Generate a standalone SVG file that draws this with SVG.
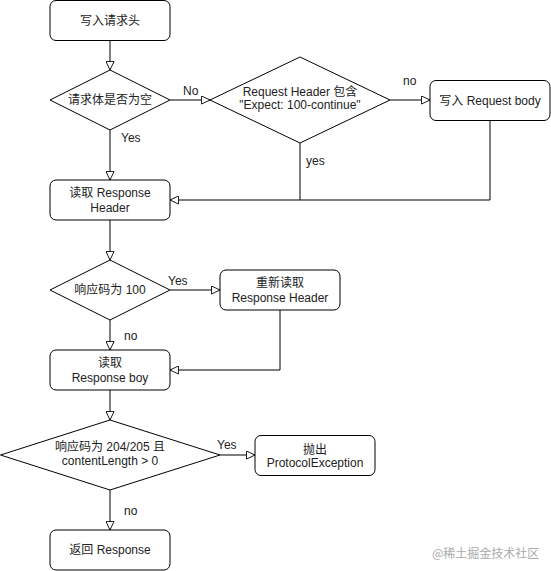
<svg xmlns="http://www.w3.org/2000/svg" width="551" height="571" viewBox="0 0 551 571">
<defs>
<style>
.n{fill:#fff;stroke:#000;stroke-width:1}
.t{font-family:"Liberation Sans","Noto Sans CJK SC",Arial,sans-serif;font-size:12px;fill:#222;text-anchor:middle;dominant-baseline:central}
.l{font-family:"Liberation Sans","Noto Sans CJK SC",Arial,sans-serif;font-size:12px;fill:#222;dominant-baseline:central}
.c{fill:none;stroke:#000;stroke-width:1}
.a{marker-end:url(#arr)}
</style>
<marker id="arr" viewBox="0 0 10 10" refX="10" refY="5" markerWidth="9" markerHeight="9" markerUnits="userSpaceOnUse" orient="auto">
<path d="M0.5,0.5 L10,5 L0.5,9.5 Z" fill="#fff" stroke="#000" stroke-width="1"/>
</marker>
</defs>
<rect width="551" height="571" fill="#fff"/>
<g id="connectors">
<path class="c a" d="M110,40 V70"/>
<path class="c a" d="M170,100 H210"/>
<path class="c a" d="M110,130 V180"/>
<path class="c a" d="M390,100 H430"/>
<path class="c" d="M300,143 V200"/>
<path class="c a" d="M490,120 V200 H170"/>
<path class="c a" d="M110,220 V260"/>
<path class="c a" d="M170,290 H220"/>
<path class="c a" d="M280,310 V370 H170"/>
<path class="c a" d="M110,320 V350"/>
<path class="c a" d="M110,390 V420"/>
<path class="c a" d="M220,455 H255"/>
<path class="c a" d="M110,490 V530"/>
<text class="l" x="183" y="91">No</text>
<text class="l" x="121" y="138">Yes</text>
<text class="l" x="403" y="81">no</text>
<text class="l" x="306" y="161">yes</text>
<text class="l" x="168" y="281">Yes</text>
<text class="l" x="124" y="336">no</text>
<text class="l" x="217" y="445">Yes</text>
<text class="l" x="124" y="511">no</text>
</g>
<g id="n1"><rect class="n" x="50" y="0.5" width="120" height="40" rx="6"/><text class="t" x="110" y="21">写入请求头</text></g>
<g id="n2"><path class="n" d="M110,70 L170,100 L110,130 L50,100 Z"/><text class="t" x="110" y="100">请求体是否为空</text></g>
<g id="n3"><path class="n" d="M300,57 L390,100 L300,143 L210,100 Z"/><text class="t" x="300" y="92">Request Header 包含</text><text class="t" x="300" y="105">"Expect: 100-continue"</text></g>
<g id="n4"><rect class="n" x="430" y="80.5" width="120" height="40" rx="6"/><text class="t" x="490" y="100.5">写入 Request body</text></g>
<g id="n5"><rect class="n" x="50" y="180" width="120" height="40" rx="6"/><text class="t" x="110" y="193">读取 Response</text><text class="t" x="110" y="208">Header</text></g>
<g id="n6"><path class="n" d="M110,260 L170,290 L110,320 L50,290 Z"/><text class="t" x="110" y="290">响应码为 100</text></g>
<g id="n7"><rect class="n" x="220" y="270" width="120" height="40" rx="6"/><text class="t" x="280" y="283">重新读取</text><text class="t" x="280" y="298">Response Header</text></g>
<g id="n8"><rect class="n" x="50" y="350" width="120" height="40" rx="6"/><text class="t" x="110" y="363">读取</text><text class="t" x="110" y="378">Response boy</text></g>
<g id="n9"><path class="n" d="M110,420 L220,455 L110,490 L0.5,455 Z"/><text class="t" x="110" y="447">响应码为 204/205 且</text><text class="t" x="110" y="461">contentLength &gt; 0</text></g>
<g id="n10"><rect class="n" x="255" y="435.5" width="120" height="40" rx="6"/><text class="t" x="315" y="450">抛出</text><text class="t" x="315" y="463">ProtocolException</text></g>
<g id="n11"><rect class="n" x="50" y="530" width="120" height="40" rx="6"/><text class="t" x="110" y="550">返回 Response</text></g>
<text x="432" y="552" font-family="'Noto Sans CJK SC','Liberation Sans',sans-serif" font-size="12" fill="#aaa" dominant-baseline="central">@稀土掘金技术社区</text>
</svg>
